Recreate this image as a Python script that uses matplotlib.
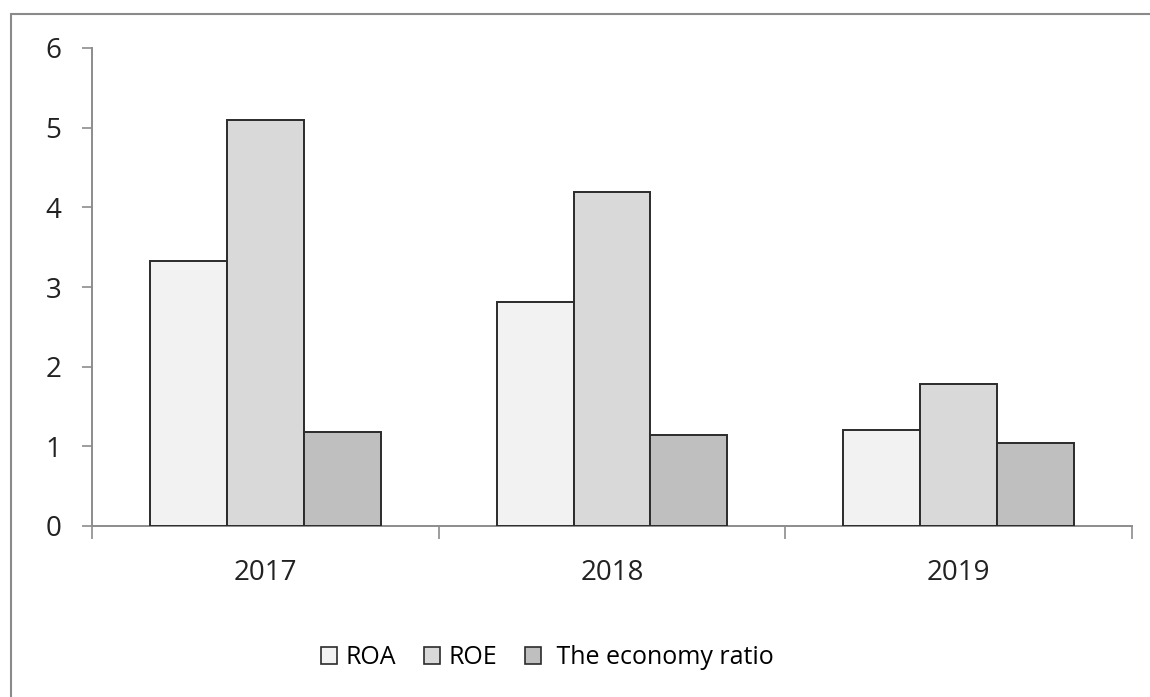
#!/usr/bin/env python3
"""Grouped bar chart of ROA, ROE and the economy ratio, 2017-2019."""

import matplotlib
matplotlib.use("Agg")
import matplotlib.pyplot as plt
import numpy as np
from matplotlib.patches import Patch, Rectangle

years = ["2017", "2018", "2019"]
series_names = ["ROA", "ROE", " The economy ratio"]
roa = [3.33, 2.81, 1.20]
roe = [5.09, 4.19, 1.78]
economy_ratio = [1.18, 1.14, 1.04]

COLORS = ["#f2f2f2", "#d9d9d9", "#bfbfbf"]
EDGE = "#2b2b2b"
AXIS_GRAY = "#8c8c8c"
FONT = "Open Sans"

plt.rcParams["font.family"] = [FONT, "DejaVu Sans"]

fig = plt.figure(figsize=(11.5, 6.97), dpi=100)
ax = fig.add_axes([92 / 1150, 1 - 526 / 697, (1132 - 92) / 1150, (526 - 48) / 697])

x = np.arange(len(years))
width = 0.222
for i, (vals, color) in enumerate(zip([roa, roe, economy_ratio], COLORS)):
    ax.bar(x + (i - 1) * width, vals, width=width, color=color,
           edgecolor=EDGE, linewidth=1.4, zorder=3)

ax.set_xlim(-0.5, len(years) - 0.5)
ax.set_ylim(0, 6)
ax.set_yticks(range(0, 7))
ax.set_xticks(x, years)
ax.set_xticks(np.arange(-0.5, len(years)), minor=True)

for side in ["top", "right"]:
    ax.spines[side].set_visible(False)
for side in ["left", "bottom"]:
    ax.spines[side].set_color(AXIS_GRAY)
    ax.spines[side].set_linewidth(1.4)

ax.tick_params(axis="y", direction="out", length=7, width=1.2, color=AXIS_GRAY,
               labelsize=20, pad=15, labelcolor="#222222")
ax.tick_params(axis="x", which="major", length=0, labelsize=20, pad=24,
               labelcolor="#222222")
ax.tick_params(axis="x", which="minor", direction="out", length=9, width=1.2,
               color=AXIS_GRAY)

handles = [Patch(facecolor=c, edgecolor=EDGE, linewidth=1.2, label=n)
           for c, n in zip(COLORS, series_names)]
fig.legend(handles=handles, loc="center", bbox_to_anchor=(0.476, 0.056), ncol=3,
           frameon=False, fontsize=18, handlelength=0.65, handleheight=0.7,
           handletextpad=0.35, columnspacing=1.1)

# outer chart-area border (only top and left edges show in the image)
fig.patches.append(Rectangle((10.5 / 1150, -0.1), 1.2, 1 - 14 / 697 + 0.1,
                             transform=fig.transFigure, fill=False,
                             edgecolor="#8a8a8a", linewidth=1.5))

fig.savefig("out.png", dpi=100)
